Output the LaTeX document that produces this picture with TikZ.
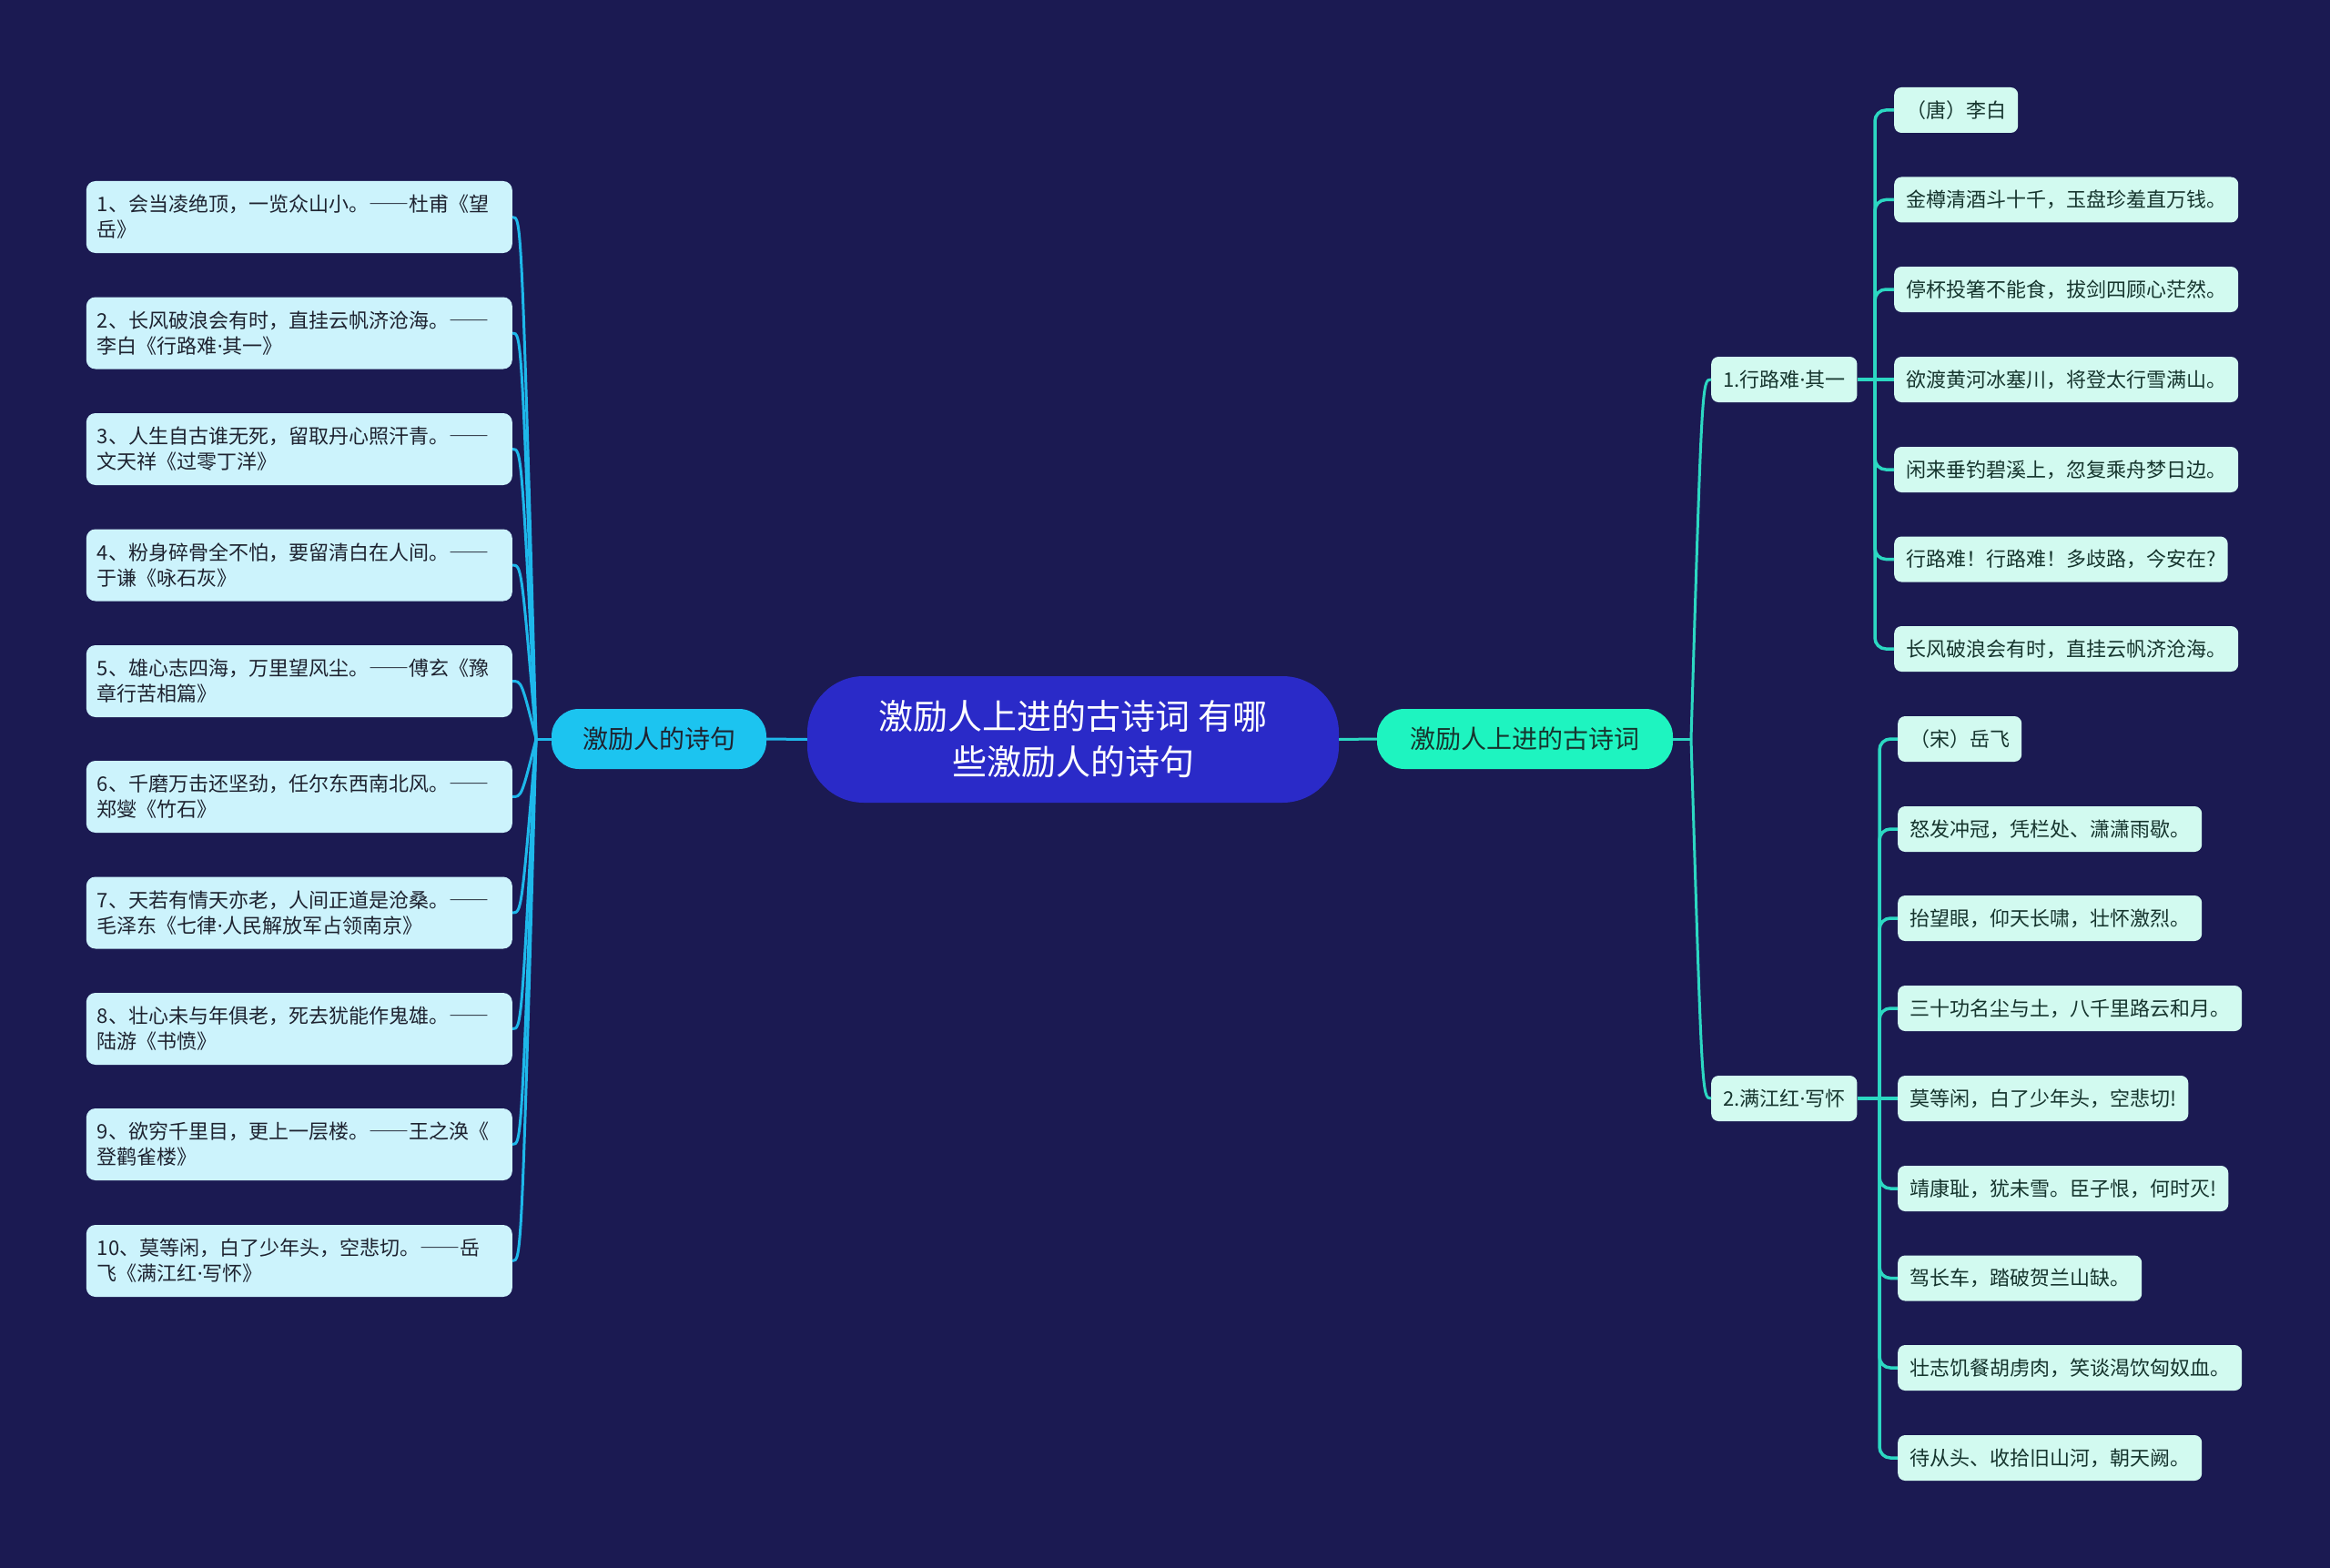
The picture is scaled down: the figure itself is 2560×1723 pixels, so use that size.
\documentclass[tikz,border=0pt]{standalone}
\usepackage{fontspec}
\setmainfont{Noto Sans CJK SC}
\newfontfamily\latinfont{Noto Sans}
\newcommand\mdot{{\latinfont ·}}
\newcommand\ddash{{\addfontfeature{RawFeature=+fwid}——}}
\usetikzlibrary{calc}
\definecolor{bg}{HTML}{1B1A52}
\definecolor{centerfill}{HTML}{2A2AC8}
\definecolor{lmainfill}{HTML}{1CC4F0}
\definecolor{rmainfill}{HTML}{1EF4C0}
\definecolor{lleaffill}{HTML}{CCF3FC}
\definecolor{rleaffill}{HTML}{D2FAF0}
\definecolor{llinecol}{HTML}{1EB8EA}
\definecolor{rlinecol}{HTML}{2CD8C2}
\definecolor{ltextcol}{HTML}{1E2330}
\definecolor{rtextcol}{HTML}{16352E}
\begin{document}
\begin{tikzpicture}[x=1pt,y=-1pt,
  centerbox/.style={fill=centerfill, rounded corners=62pt, minimum width=584pt, minimum height=139pt, inner sep=0pt, text=white, align=center, font=\fontsize{38}{50}\selectfont},
  lmainbox/.style={fill=lmainfill, rounded corners=30pt, minimum width=236pt, minimum height=66pt, inner sep=0pt, text=ltextcol, font=\fontsize{28}{34}\selectfont},
  rmainbox/.style={fill=rmainfill, rounded corners=30pt, minimum width=325pt, minimum height=66pt, inner sep=0pt, text=rtextcol, font=\fontsize{28}{34}\selectfont},
  lleafbox/.style={fill=lleaffill, rounded corners=10pt, text width=444pt, align=left, inner xsep=12pt, inner ysep=0pt, minimum height=79pt, text=ltextcol, font=\fontsize{22}{28}\selectfont, anchor=east},
  rleafbox/.style={fill=rleaffill, rounded corners=8pt, inner xsep=13pt, inner ysep=0pt, minimum height=50pt, text=rtextcol, font=\fontsize{22}{28}\selectfont, anchor=west},
  rsubbox/.style={fill=rleaffill, rounded corners=8pt, inner xsep=13pt, inner ysep=0pt, minimum height=50pt, text=rtextcol, font=\fontsize{22}{28}\selectfont},
  lconn/.style={draw=llinecol, line width=3pt},
  rconn/.style={draw=rlinecol, line width=3.5pt},
]
\useasboundingbox (0,0) rectangle (2560,1723);
\fill[bg] (0,0) rectangle (2560,1723);

% central and main nodes
\node[centerbox] (c) at (1179,812.5) {激励人上进的古诗词 有哪\\些激励人的诗句};
\node[lmainbox] (lm) at (724,812) {激励人的诗句};
\node[rmainbox] (rm) at (1675.5,812) {激励人上进的古诗词};

% left leaves
\node[lleafbox] (l1) at (563,238.5) {1、会当凌绝顶，一览众山小。\ddash 杜甫《望\\岳》};
\node[lleafbox] (l2) at (563,366) {2、长风破浪会有时，直挂云帆济沧海。\ddash\\李白《行路难\mdot 其一》};
\node[lleafbox] (l3) at (563,493.5) {3、人生自古谁无死，留取丹心照汗青。\ddash\\文天祥《过零丁洋》};
\node[lleafbox] (l4) at (563,621) {4、粉身碎骨全不怕，要留清白在人间。\ddash\\于谦《咏石灰》};
\node[lleafbox] (l5) at (563,748.5) {5、雄心志四海，万里望风尘。\ddash 傅玄《豫\\章行苦相篇》};
\node[lleafbox] (l6) at (563,875.5) {6、千磨万击还坚劲，任尔东西南北风。\ddash\\郑燮《竹石》};
\node[lleafbox] (l7) at (563,1003) {7、天若有情天亦老，人间正道是沧桑。\ddash\\毛泽东《七律\mdot 人民解放军占领南京》};
\node[lleafbox] (l8) at (563,1130.5) {8、壮心未与年俱老，死去犹能作鬼雄。\ddash\\陆游《书愤》};
\node[lleafbox] (l9) at (563,1257.5) {9、欲穷千里目，更上一层楼。\ddash 王之涣《\\登鹳雀楼》};
\node[lleafbox] (l10) at (563,1385.5) {10、莫等闲，白了少年头，空悲切。\ddash 岳\\飞《满江红\mdot 写怀》};

% right sub nodes
\node[rsubbox, anchor=west] (r1) at (1880,417) {1.行路难\mdot 其一};
\node[rsubbox, anchor=west] (r2) at (1880,1207) {2.满江红\mdot 写怀};

% group 1 leaves
\node[rleafbox] (a1) at (2081,121) {（唐）李白};
\node[rleafbox] (a2) at (2081,219.5) {金樽清酒斗十千，玉盘珍羞直万钱。};
\node[rleafbox] (a3) at (2081,318) {停杯投箸不能食，拔剑四顾心茫然。};
\node[rleafbox] (a4) at (2081,417) {欲渡黄河冰塞川，将登太行雪满山。};
\node[rleafbox] (a5) at (2081,516) {闲来垂钓碧溪上，忽复乘舟梦日边。};
\node[rleafbox] (a6) at (2081,614.5) {行路难！行路难！多歧路，今安在?};
\node[rleafbox] (a7) at (2081,713) {长风破浪会有时，直挂云帆济沧海。};

% group 2 leaves
\node[rleafbox] (b1) at (2085,812) {（宋）岳飞};
\node[rleafbox] (b2) at (2085,911) {怒发冲冠，凭栏处、潇潇雨歇。};
\node[rleafbox] (b3) at (2085,1009) {抬望眼，仰天长啸，壮怀激烈。};
\node[rleafbox] (b4) at (2085,1108) {三十功名尘与土，八千里路云和月。};
\node[rleafbox] (b5) at (2085,1207) {莫等闲，白了少年头，空悲切!};
\node[rleafbox] (b6) at (2085,1306) {靖康耻，犹未雪。臣子恨，何时灭!};
\node[rleafbox] (b7) at (2085,1404.5) {驾长车，踏破贺兰山缺。};
\node[rleafbox] (b8) at (2085,1503) {壮志饥餐胡虏肉，笑谈渴饮匈奴血。};
\node[rleafbox] (b9) at (2085,1602) {待从头、收拾旧山河，朝天阙。};

% connectors: center to main
\draw[lconn] (lm.east) -- (c.west);
\draw[rconn, line width=3pt] (c.east) -- (rm.west);

% left fan
\coordinate (lj) at (589,812);
\draw[lconn] (lm.west) -- (lj);
\foreach \k in {1,...,10}{
  \draw[lconn] (lj) .. controls ($(l\k.east)+(10,0)$) and ($(l\k.east)+(10,0)$) .. (l\k.east);
}

% right level 2
\coordinate (rj) at (1858,812);
\draw[rconn, line width=3pt] (rm.east) -- (rj);
\foreach \k in {1,2}{
  \draw[rconn, line width=3pt] (rj) .. controls ($(r\k.west)+(-10,0)$) and ($(r\k.west)+(-10,0)$) .. (r\k.west);
}

% right level 3, group 1
\coordinate (j1) at (2060,417);
\draw[rconn] (r1.east) -- (a4.west);
\foreach \k in {1,2,3,5,6,7}{
  \draw[rconn, rounded corners=12pt] (j1) |- (a\k.west);
}

% right level 3, group 2
\coordinate (j2) at (2065,1207);
\draw[rconn] (r2.east) -- (b5.west);
\foreach \k in {1,2,3,4,6,7,8,9}{
  \draw[rconn, rounded corners=12pt] (j2) |- (b\k.west);
}
\end{tikzpicture}
\end{document}
